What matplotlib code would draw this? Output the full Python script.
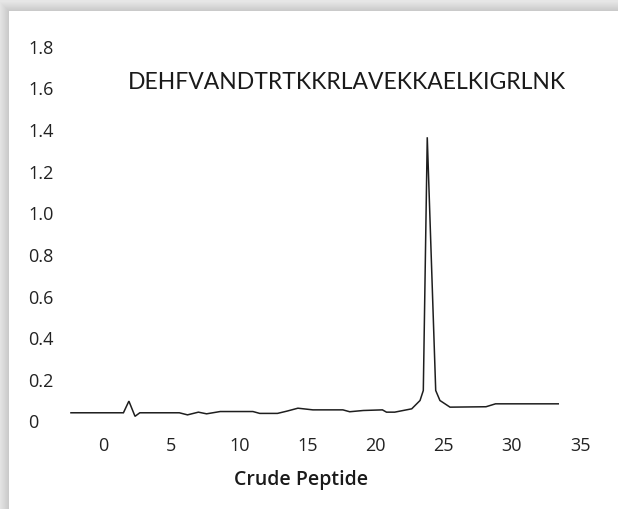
import numpy as np
import matplotlib.pyplot as plt
from matplotlib.patches import Rectangle

# elution trace (time vs absorbance)
time = [-2.35, 1.5, 1.9, 2.35, 2.7, 5.6, 6.2, 7.0, 7.6, 8.6, 11.0, 11.5,
        12.8, 13.5, 14.3, 15.4, 17.6, 18.1, 19.1, 20.5, 20.8, 21.4, 22.65,
        23.26, 23.5, 23.79, 24.41, 24.72, 25.46, 28.1, 28.8, 33.4]
absorbance = [0.037, 0.037, 0.093, 0.02, 0.037, 0.037, 0.027, 0.04, 0.032,
              0.043, 0.043, 0.034, 0.034, 0.045, 0.059, 0.051, 0.051, 0.042,
              0.048, 0.051, 0.04, 0.04, 0.056, 0.096, 0.144, 1.36, 0.144,
              0.096, 0.064, 0.066, 0.08, 0.08]

sequence = 'DEHFVANDTRTKKRLAVEKKAELKIGRLNK'
x_ticks = [0, 5, 10, 15, 20, 25, 30, 35]
y_ticks = [0, 0.2, 0.4, 0.6, 0.8, 1.0, 1.2, 1.4, 1.6, 1.8]
y_labels = ['0', '0.2', '0.4', '0.6', '0.8', '1.0', '1.2', '1.4', '1.6', '1.8']

W, H = 618, 510
fig = plt.figure(figsize=(W / 100, H / 100), dpi=100)

# grey drop shadow behind the white card
bg = fig.add_axes([0, 0, 1, 1])
yy, xx = np.mgrid[0:H, 0:W]
d = np.minimum(xx - 9, yy - 12)
shade = np.where(d < 0, 0.78 + 0.12 * np.clip(-d / 10, 0, 1), 1.0)
bg.imshow(shade, cmap='gray', vmin=0, vmax=1, extent=[0, W, H, 0], aspect='auto')
bg.add_patch(Rectangle((9, 12), W, H, facecolor='white', edgecolor='none'))
bg.set_xlim(0, W)
bg.set_ylim(H, 0)
bg.axis('off')

ax = fig.add_axes([62.1 / W, 1 - 431.9 / H, 538.4 / W, 395.7 / H])
ax.patch.set_alpha(0)
ax.plot(time, absorbance, color='#1e1e1e', lw=1.1, solid_joinstyle='miter')

ax.set_xlim(-3, 36.5)
ax.set_ylim(-0.05, 1.85)
ax.set_xticks(x_ticks)
ax.set_yticks(y_ticks)
ax.set_yticklabels(y_labels)
for s in ax.spines.values():
    s.set_visible(False)
ax.tick_params(length=0, labelsize=13, colors='#222222')
ax.tick_params(axis='y', pad=24.6)
ax.tick_params(axis='x', pad=3.5)
for lab in ax.get_xticklabels() + ax.get_yticklabels():
    lab.set_fontfamily('Open Sans')
for lab in ax.get_yticklabels():
    lab.set_horizontalalignment('left')

fig.text(346.5 / W, 1 - 89 / H, sequence, ha='center', va='baseline',
         fontsize=16.5, family='Lato', color='#1a1a1a')
fig.text(301 / W, 1 - 480 / H, 'Crude Peptide', ha='center', va='center',
         fontsize=14, family='Open Sans', fontweight='semibold', color='#1a1a1a')

fig.savefig('out.png', dpi=100)
